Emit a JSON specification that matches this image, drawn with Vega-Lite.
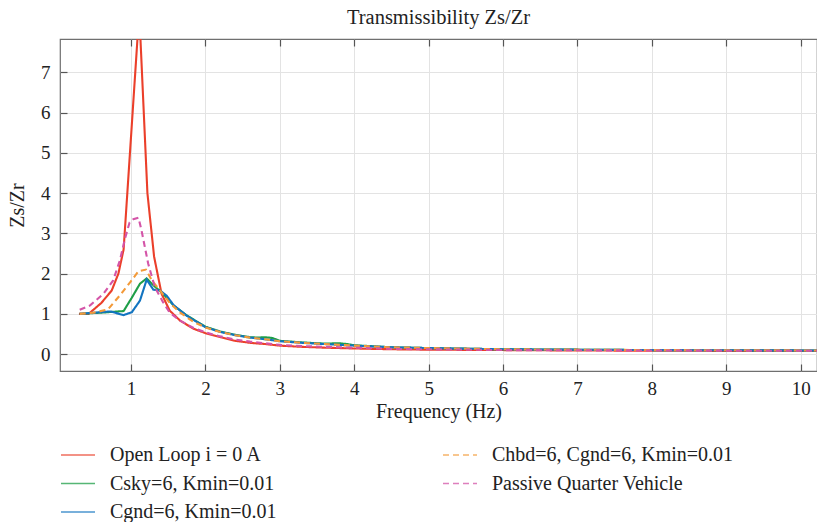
{
  "$schema": "https://vega.github.io/schema/vega-lite/v6.json",
  "autosize": "none",
  "width": 757,
  "height": 332,
  "padding": {"left": 60, "top": 39, "right": 0, "bottom": 151},
  "background": "white",
  "config": {
    "font": "Liberation Serif",
    "view": {"stroke": "#6f6f6f", "strokeWidth": 1.2},
    "axis": {"labelFont": "Liberation Serif", "titleFont": "Liberation Serif", "labelColor": "#222", "titleColor": "#222", "titleFontWeight": "normal", "gridColor": "#e3e3e3", "gridWidth": 1, "domain": false, "tickColor": "#555", "tickWidth": 1.2}
  },
  "title": {"text": "Transmissibility Zs/Zr", "font": "Liberation Serif", "fontSize": 20.5, "fontWeight": "normal", "color": "#222", "offset": 10, "anchor": "middle", "frame": "group"},
  "data": {"values": [
    {"f": 0.3, "v": 1.0, "s": "Open Loop i = 0 A"},
    {"f": 0.43, "v": 1.0, "s": "Open Loop i = 0 A"},
    {"f": 0.6, "v": 1.27, "s": "Open Loop i = 0 A"},
    {"f": 0.74, "v": 1.58, "s": "Open Loop i = 0 A"},
    {"f": 0.83, "v": 2.0, "s": "Open Loop i = 0 A"},
    {"f": 0.9, "v": 2.6, "s": "Open Loop i = 0 A"},
    {"f": 1.11, "v": 8.5, "s": "Open Loop i = 0 A"},
    {"f": 1.22, "v": 4.0, "s": "Open Loop i = 0 A"},
    {"f": 1.31, "v": 2.42, "s": "Open Loop i = 0 A"},
    {"f": 1.41, "v": 1.5, "s": "Open Loop i = 0 A"},
    {"f": 1.52, "v": 1.08, "s": "Open Loop i = 0 A"},
    {"f": 1.66, "v": 0.83, "s": "Open Loop i = 0 A"},
    {"f": 1.84, "v": 0.63, "s": "Open Loop i = 0 A"},
    {"f": 2.0, "v": 0.52, "s": "Open Loop i = 0 A"},
    {"f": 2.2, "v": 0.42, "s": "Open Loop i = 0 A"},
    {"f": 2.4, "v": 0.33, "s": "Open Loop i = 0 A"},
    {"f": 2.6, "v": 0.28, "s": "Open Loop i = 0 A"},
    {"f": 2.8, "v": 0.25, "s": "Open Loop i = 0 A"},
    {"f": 3.0, "v": 0.21, "s": "Open Loop i = 0 A"},
    {"f": 3.3, "v": 0.18, "s": "Open Loop i = 0 A"},
    {"f": 3.6, "v": 0.16, "s": "Open Loop i = 0 A"},
    {"f": 4.0, "v": 0.14, "s": "Open Loop i = 0 A"},
    {"f": 4.5, "v": 0.12, "s": "Open Loop i = 0 A"},
    {"f": 5.0, "v": 0.11, "s": "Open Loop i = 0 A"},
    {"f": 6.0, "v": 0.1, "s": "Open Loop i = 0 A"},
    {"f": 7.0, "v": 0.09, "s": "Open Loop i = 0 A"},
    {"f": 8.0, "v": 0.085, "s": "Open Loop i = 0 A"},
    {"f": 9.0, "v": 0.08, "s": "Open Loop i = 0 A"},
    {"f": 10.25, "v": 0.08, "s": "Open Loop i = 0 A"},

    {"f": 0.31, "v": 1.0, "s": "Csky=6, Kmin=0.01"},
    {"f": 0.6, "v": 1.03, "s": "Csky=6, Kmin=0.01"},
    {"f": 0.9, "v": 1.07, "s": "Csky=6, Kmin=0.01"},
    {"f": 1.01, "v": 1.4, "s": "Csky=6, Kmin=0.01"},
    {"f": 1.12, "v": 1.75, "s": "Csky=6, Kmin=0.01"},
    {"f": 1.21, "v": 1.88, "s": "Csky=6, Kmin=0.01"},
    {"f": 1.3, "v": 1.71, "s": "Csky=6, Kmin=0.01"},
    {"f": 1.43, "v": 1.5, "s": "Csky=6, Kmin=0.01"},
    {"f": 1.57, "v": 1.21, "s": "Csky=6, Kmin=0.01"},
    {"f": 1.75, "v": 0.96, "s": "Csky=6, Kmin=0.01"},
    {"f": 2.0, "v": 0.68, "s": "Csky=6, Kmin=0.01"},
    {"f": 2.2, "v": 0.56, "s": "Csky=6, Kmin=0.01"},
    {"f": 2.4, "v": 0.48, "s": "Csky=6, Kmin=0.01"},
    {"f": 2.6, "v": 0.42, "s": "Csky=6, Kmin=0.01"},
    {"f": 2.7, "v": 0.41, "s": "Csky=6, Kmin=0.01"},
    {"f": 2.8, "v": 0.42, "s": "Csky=6, Kmin=0.01"},
    {"f": 2.9, "v": 0.4, "s": "Csky=6, Kmin=0.01"},
    {"f": 3.0, "v": 0.33, "s": "Csky=6, Kmin=0.01"},
    {"f": 3.3, "v": 0.29, "s": "Csky=6, Kmin=0.01"},
    {"f": 3.6, "v": 0.26, "s": "Csky=6, Kmin=0.01"},
    {"f": 3.8, "v": 0.27, "s": "Csky=6, Kmin=0.01"},
    {"f": 3.9, "v": 0.25, "s": "Csky=6, Kmin=0.01"},
    {"f": 4.0, "v": 0.22, "s": "Csky=6, Kmin=0.01"},
    {"f": 4.5, "v": 0.17, "s": "Csky=6, Kmin=0.01"},
    {"f": 5.0, "v": 0.15, "s": "Csky=6, Kmin=0.01"},
    {"f": 6.0, "v": 0.12, "s": "Csky=6, Kmin=0.01"},
    {"f": 7.0, "v": 0.11, "s": "Csky=6, Kmin=0.01"},
    {"f": 8.0, "v": 0.1, "s": "Csky=6, Kmin=0.01"},
    {"f": 9.0, "v": 0.095, "s": "Csky=6, Kmin=0.01"},
    {"f": 10.25, "v": 0.09, "s": "Csky=6, Kmin=0.01"},

    {"f": 0.31, "v": 1.0, "s": "Cgnd=6, Kmin=0.01"},
    {"f": 0.72, "v": 1.06, "s": "Cgnd=6, Kmin=0.01"},
    {"f": 0.9, "v": 0.97, "s": "Cgnd=6, Kmin=0.01"},
    {"f": 1.01, "v": 1.04, "s": "Cgnd=6, Kmin=0.01"},
    {"f": 1.12, "v": 1.33, "s": "Cgnd=6, Kmin=0.01"},
    {"f": 1.21, "v": 1.85, "s": "Cgnd=6, Kmin=0.01"},
    {"f": 1.3, "v": 1.6, "s": "Cgnd=6, Kmin=0.01"},
    {"f": 1.39, "v": 1.58, "s": "Cgnd=6, Kmin=0.01"},
    {"f": 1.48, "v": 1.45, "s": "Cgnd=6, Kmin=0.01"},
    {"f": 1.57, "v": 1.22, "s": "Cgnd=6, Kmin=0.01"},
    {"f": 1.75, "v": 0.95, "s": "Cgnd=6, Kmin=0.01"},
    {"f": 2.0, "v": 0.67, "s": "Cgnd=6, Kmin=0.01"},
    {"f": 2.2, "v": 0.55, "s": "Cgnd=6, Kmin=0.01"},
    {"f": 2.4, "v": 0.47, "s": "Cgnd=6, Kmin=0.01"},
    {"f": 2.6, "v": 0.41, "s": "Cgnd=6, Kmin=0.01"},
    {"f": 2.8, "v": 0.37, "s": "Cgnd=6, Kmin=0.01"},
    {"f": 3.0, "v": 0.32, "s": "Cgnd=6, Kmin=0.01"},
    {"f": 3.3, "v": 0.28, "s": "Cgnd=6, Kmin=0.01"},
    {"f": 3.6, "v": 0.25, "s": "Cgnd=6, Kmin=0.01"},
    {"f": 4.0, "v": 0.21, "s": "Cgnd=6, Kmin=0.01"},
    {"f": 4.5, "v": 0.17, "s": "Cgnd=6, Kmin=0.01"},
    {"f": 5.0, "v": 0.15, "s": "Cgnd=6, Kmin=0.01"},
    {"f": 6.0, "v": 0.12, "s": "Cgnd=6, Kmin=0.01"},
    {"f": 7.0, "v": 0.11, "s": "Cgnd=6, Kmin=0.01"},
    {"f": 8.0, "v": 0.1, "s": "Cgnd=6, Kmin=0.01"},
    {"f": 9.0, "v": 0.095, "s": "Cgnd=6, Kmin=0.01"},
    {"f": 10.25, "v": 0.09, "s": "Cgnd=6, Kmin=0.01"},

    {"f": 0.31, "v": 1.0, "s": "Chbd=6, Cgnd=6, Kmin=0.01"},
    {"f": 0.5, "v": 1.03, "s": "Chbd=6, Cgnd=6, Kmin=0.01"},
    {"f": 0.69, "v": 1.11, "s": "Chbd=6, Cgnd=6, Kmin=0.01"},
    {"f": 0.85, "v": 1.46, "s": "Chbd=6, Cgnd=6, Kmin=0.01"},
    {"f": 0.99, "v": 1.79, "s": "Chbd=6, Cgnd=6, Kmin=0.01"},
    {"f": 1.1, "v": 2.06, "s": "Chbd=6, Cgnd=6, Kmin=0.01"},
    {"f": 1.2, "v": 2.1, "s": "Chbd=6, Cgnd=6, Kmin=0.01"},
    {"f": 1.28, "v": 1.83, "s": "Chbd=6, Cgnd=6, Kmin=0.01"},
    {"f": 1.39, "v": 1.58, "s": "Chbd=6, Cgnd=6, Kmin=0.01"},
    {"f": 1.52, "v": 1.27, "s": "Chbd=6, Cgnd=6, Kmin=0.01"},
    {"f": 1.66, "v": 1.03, "s": "Chbd=6, Cgnd=6, Kmin=0.01"},
    {"f": 1.84, "v": 0.8, "s": "Chbd=6, Cgnd=6, Kmin=0.01"},
    {"f": 2.0, "v": 0.66, "s": "Chbd=6, Cgnd=6, Kmin=0.01"},
    {"f": 2.2, "v": 0.55, "s": "Chbd=6, Cgnd=6, Kmin=0.01"},
    {"f": 2.4, "v": 0.47, "s": "Chbd=6, Cgnd=6, Kmin=0.01"},
    {"f": 2.6, "v": 0.41, "s": "Chbd=6, Cgnd=6, Kmin=0.01"},
    {"f": 2.8, "v": 0.37, "s": "Chbd=6, Cgnd=6, Kmin=0.01"},
    {"f": 3.0, "v": 0.32, "s": "Chbd=6, Cgnd=6, Kmin=0.01"},
    {"f": 3.3, "v": 0.28, "s": "Chbd=6, Cgnd=6, Kmin=0.01"},
    {"f": 3.6, "v": 0.25, "s": "Chbd=6, Cgnd=6, Kmin=0.01"},
    {"f": 4.0, "v": 0.21, "s": "Chbd=6, Cgnd=6, Kmin=0.01"},
    {"f": 4.5, "v": 0.17, "s": "Chbd=6, Cgnd=6, Kmin=0.01"},
    {"f": 5.0, "v": 0.15, "s": "Chbd=6, Cgnd=6, Kmin=0.01"},
    {"f": 6.0, "v": 0.12, "s": "Chbd=6, Cgnd=6, Kmin=0.01"},
    {"f": 7.0, "v": 0.11, "s": "Chbd=6, Cgnd=6, Kmin=0.01"},
    {"f": 8.0, "v": 0.1, "s": "Chbd=6, Cgnd=6, Kmin=0.01"},
    {"f": 9.0, "v": 0.095, "s": "Chbd=6, Cgnd=6, Kmin=0.01"},
    {"f": 10.25, "v": 0.09, "s": "Chbd=6, Cgnd=6, Kmin=0.01"},

    {"f": 0.31, "v": 1.1, "s": "Passive Quarter Vehicle"},
    {"f": 0.45, "v": 1.21, "s": "Passive Quarter Vehicle"},
    {"f": 0.63, "v": 1.5, "s": "Passive Quarter Vehicle"},
    {"f": 0.76, "v": 1.83, "s": "Passive Quarter Vehicle"},
    {"f": 0.85, "v": 2.33, "s": "Passive Quarter Vehicle"},
    {"f": 0.92, "v": 2.88, "s": "Passive Quarter Vehicle"},
    {"f": 0.98, "v": 3.27, "s": "Passive Quarter Vehicle"},
    {"f": 1.03, "v": 3.35, "s": "Passive Quarter Vehicle"},
    {"f": 1.1, "v": 3.39, "s": "Passive Quarter Vehicle"},
    {"f": 1.14, "v": 3.08, "s": "Passive Quarter Vehicle"},
    {"f": 1.23, "v": 2.25, "s": "Passive Quarter Vehicle"},
    {"f": 1.32, "v": 1.66, "s": "Passive Quarter Vehicle"},
    {"f": 1.43, "v": 1.29, "s": "Passive Quarter Vehicle"},
    {"f": 1.52, "v": 1.03, "s": "Passive Quarter Vehicle"},
    {"f": 1.66, "v": 0.83, "s": "Passive Quarter Vehicle"},
    {"f": 1.84, "v": 0.65, "s": "Passive Quarter Vehicle"},
    {"f": 2.0, "v": 0.54, "s": "Passive Quarter Vehicle"},
    {"f": 2.2, "v": 0.44, "s": "Passive Quarter Vehicle"},
    {"f": 2.4, "v": 0.36, "s": "Passive Quarter Vehicle"},
    {"f": 2.6, "v": 0.31, "s": "Passive Quarter Vehicle"},
    {"f": 2.8, "v": 0.27, "s": "Passive Quarter Vehicle"},
    {"f": 3.0, "v": 0.23, "s": "Passive Quarter Vehicle"},
    {"f": 3.3, "v": 0.2, "s": "Passive Quarter Vehicle"},
    {"f": 3.6, "v": 0.18, "s": "Passive Quarter Vehicle"},
    {"f": 4.0, "v": 0.16, "s": "Passive Quarter Vehicle"},
    {"f": 4.5, "v": 0.13, "s": "Passive Quarter Vehicle"},
    {"f": 5.0, "v": 0.12, "s": "Passive Quarter Vehicle"},
    {"f": 6.0, "v": 0.1, "s": "Passive Quarter Vehicle"},
    {"f": 7.0, "v": 0.095, "s": "Passive Quarter Vehicle"},
    {"f": 8.0, "v": 0.09, "s": "Passive Quarter Vehicle"},
    {"f": 9.0, "v": 0.085, "s": "Passive Quarter Vehicle"},
    {"f": 10.25, "v": 0.085, "s": "Passive Quarter Vehicle"}
  ]},
  "layer": [
    {
      "mark": {"type": "line", "clip": true, "strokeWidth": 2.1},
      "encoding": {
        "x": {"field": "f", "type": "quantitative", "scale": {"domain": [0.045, 10.22], "nice": false, "zero": false},
          "axis": {"title": "Frequency (Hz)", "values": [1,2,3,4,5,6,7,8,9,10], "labelFontSize": 19, "titleFontSize": 20, "tickSize": -7, "labelPadding": 15, "titlePadding": 3, "grid": true}},
        "y": {"field": "v", "type": "quantitative", "scale": {"domain": [-0.42, 7.83], "nice": false, "zero": false},
          "axis": {"title": "Zs/Zr", "values": [0,1,2,3,4,5,6,7], "labelFontSize": 19, "titleFontSize": 20, "tickSize": -7, "labelPadding": 17, "titlePadding": 13, "grid": true}},
        "color": {"field": "s", "type": "nominal",
          "scale": {"domain": ["Open Loop i = 0 A", "Csky=6, Kmin=0.01", "Cgnd=6, Kmin=0.01", "Chbd=6, Cgnd=6, Kmin=0.01", "Passive Quarter Vehicle"],
                    "range": ["#EB3F2A", "#1E9E48", "#1274C0", "#F39A39", "#D455A8"]},
          "legend": {"title": null, "orient": "none", "legendX": 0, "legendY": 398, "columns": 2, "columnPadding": 162, "rowPadding": 0.5, "symbolType": "stroke", "symbolSize": 1156, "symbolStrokeWidth": 1.6, "symbolOpacity": 0.75, "labelFontSize": 20, "labelFont": "Liberation Serif", "labelColor": "#222", "labelOffset": 14, "labelLimit": 400}},
        "strokeDash": {"field": "s", "type": "nominal",
          "scale": {"domain": ["Open Loop i = 0 A", "Csky=6, Kmin=0.01", "Cgnd=6, Kmin=0.01", "Chbd=6, Cgnd=6, Kmin=0.01", "Passive Quarter Vehicle"],
                    "range": [[1,0],[1,0],[1,0],[6,4],[6,4]]},
          "legend": {"title": null, "orient": "none", "legendX": 0, "legendY": 398, "columns": 2, "columnPadding": 162, "rowPadding": 0.5, "symbolType": "stroke", "symbolSize": 1156, "symbolStrokeWidth": 1.6, "symbolOpacity": 0.75, "labelFontSize": 20, "labelFont": "Liberation Serif", "labelColor": "#222", "labelOffset": 14, "labelLimit": 400}}
      }
    },
    {
      "mark": {"type": "rule", "opacity": 0},
      "encoding": {
        "x": {"datum": 1, "type": "quantitative", "axis": {"orient": "top", "title": null, "labels": false, "values": [1,2,3,4,5,6,7,8,9,10], "tickSize": -7, "grid": false}}
      }
    }
  ],
  "resolve": {"axis": {"x": "independent"}}
}
